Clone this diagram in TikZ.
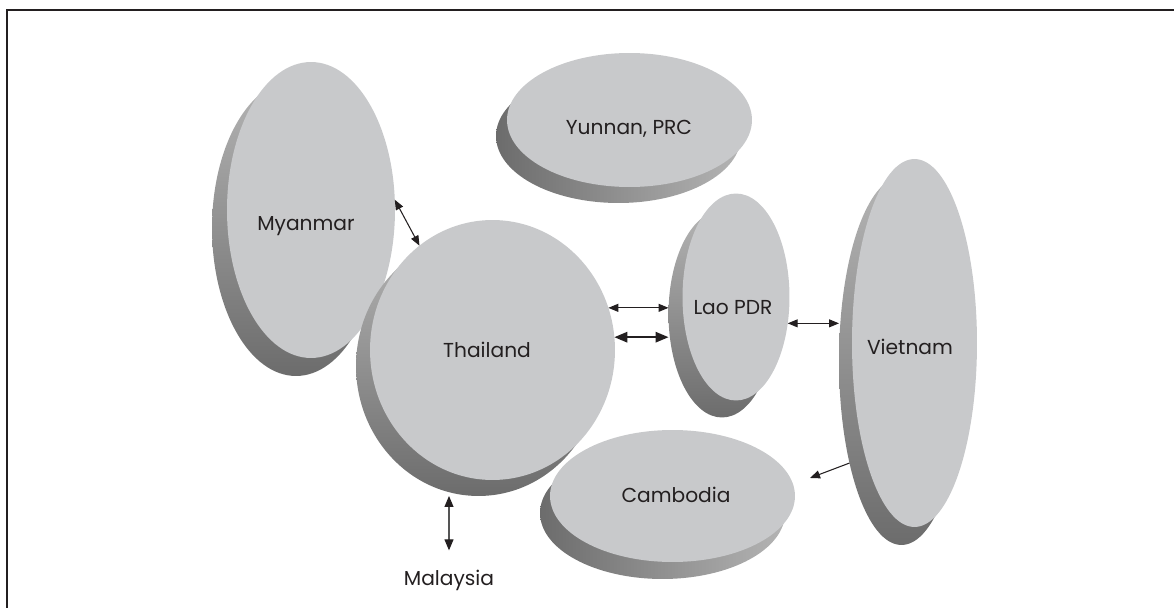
\documentclass[tikz,border=0pt]{standalone}
\usepackage{fontspec}
\setmainfont{Poppins}
\definecolor{facegray}{RGB}{200,201,203}
\definecolor{shlight}{RGB}{180,180,180}
\definecolor{shdark}{RGB}{108,108,108}
\definecolor{txtgray}{RGB}{35,31,32}
\definecolor{linegray}{RGB}{85,85,85}
\usetikzlibrary{arrows.meta,shapes.geometric}

\begin{document}
\begin{tikzpicture}[x=0.02cm,y=-0.02cm,
  country/.style={ellipse,fill=facegray,inner sep=0pt,outer sep=0pt},
  tallshadow/.style={ellipse,inner sep=0pt,outer sep=0pt,top color=shlight,bottom color=shdark},
  wideshadow/.style={ellipse,inner sep=0pt,outer sep=0pt,left color=shdark,right color=shlight},
  lbl/.style={inner sep=0pt,font=\fontsize{11.5}{13}\selectfont,text=txtgray},
  arr/.style={{Triangle[length=2mm,width=1.6mm]}-{Triangle[length=2mm,width=1.6mm]},line width=0.6pt,txtgray},
  arrbig/.style={{Triangle[length=2.6mm,width=2.1mm]}-{Triangle[length=2.6mm,width=2.1mm]},line width=0.9pt,txtgray},
  arrg/.style={{Triangle[length=2.2mm,width=1.8mm,color=txtgray]}-{Triangle[length=2.2mm,width=1.8mm,color=txtgray]},line width=0.6pt,linegray}]
  \useasboundingbox (0,0) rectangle (1174,608);
  % frame
  \draw[line width=0.8pt,txtgray] (6.8,608) -- (6.8,9.8) -- (1174,9.8);
  % Myanmar
  \node[tallshadow,minimum width=3.36cm,minimum height=5.92cm] (myaS) at (296,228) {};
  \node[country,minimum width=3.36cm,minimum height=5.92cm] (mya) at (311,210) {};
  \node[lbl] (myaT) at (306,226) {Myanmar};
  % Yunnan
  \node[wideshadow,minimum width=4.9cm,minimum height=2.68cm] (yunS) at (618.5,136) {};
  \node[country,minimum width=4.9cm,minimum height=2.68cm] (yun) at (629.5,120) {};
  \node[lbl] (yunT) at (629,129) {Yunnan, PRC};
  % Thailand
  \node[tallshadow,minimum width=4.9cm,minimum height=5.2cm] (thaS) at (478.5,366) {};
  \node[country,minimum width=4.9cm,minimum height=5.2cm] (tha) at (492.5,350) {};
  \node[lbl] (thaT) at (487,350) {Thailand};
  % Lao PDR
  \node[tallshadow,minimum width=2.14cm,minimum height=4.14cm] (laoS) at (722,314) {};
  \node[country,minimum width=2.14cm,minimum height=4.14cm] (lao) at (736,297) {};
  \node[lbl] (laoT) at (733,308) {Lao PDR};
  % Vietnam
  \node[tallshadow,minimum width=2.5cm,minimum height=7.36cm] (vieS) at (901.5,361) {};
  \node[country,minimum width=2.5cm,minimum height=7.36cm] (vie) at (914.5,343) {};
  \node[lbl] (vieT) at (910,347) {Vietnam};
  % Cambodia
  \node[wideshadow,minimum width=4.9cm,minimum height=2.64cm] (camS) at (662.5,513) {};
  \node[country,minimum width=4.9cm,minimum height=2.64cm] (cam) at (672.5,496) {};
  \node[lbl] (camT) at (676,495) {Cambodia};
  % Malaysia
  \node[lbl] (mal) at (449,580) {Malaysia};
  \coordinate (camtip) at (810,478);
  % links
  \draw[arr] (mya.7) -- (tha.125);
  \draw[arr] (tha.20) -- (tha.20 -| laoS.west);
  \draw[arrbig] (tha.6) -- (tha.6 -| laoS.west);
  \draw[arr] (lao.-27) -- (lao.-27 -| vieS.west);
  \draw[-{Triangle[length=2mm,width=1.6mm]},line width=0.6pt,txtgray] (vieS.243) -- (camtip);
  \draw[arrg] (mal.north |- thaS.south) -- ([yshift=0.38cm]mal.north);
\end{tikzpicture}
\end{document}
